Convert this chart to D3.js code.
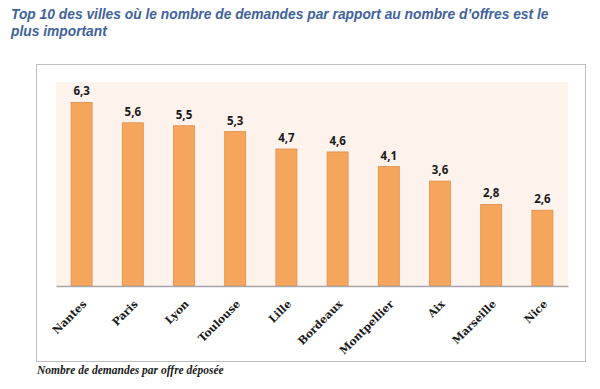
<!DOCTYPE html>
<html><head><meta charset="utf-8">
<script src="https://cdn.jsdelivr.net/npm/d3@7"></script>
<style>body{margin:0;background:#fff;}svg{display:block;}</style>
</head><body>
<script>
const titleLines = ["Top 10 des villes où le nombre de demandes par rapport au nombre d’offres est le", "plus important"];
const cities = ["Nantes","Paris","Lyon","Toulouse","Lille","Bordeaux","Montpellier","Aix","Marseille","Nice"];
const values = [6.3,5.6,5.5,5.3,4.7,4.6,4.1,3.6,2.8,2.6];
const footnote = "Nombre de demandes par offre déposée";

const W=600,H=389;
const svg=d3.select("body").append("svg").attr("width",W).attr("height",H);

svg.selectAll("text.title").data(titleLines).enter().append("text")
  .attr("x",11).attr("y",(d,i)=>19+i*16.5)
  .attr("font-family","Liberation Sans, Arial, sans-serif").attr("font-weight","bold").attr("font-style","italic")
  .attr("font-size",13.8).attr("fill","#41629a").text(d=>d);

svg.append("rect").attr("x",36.5).attr("y",64.5).attr("width",549).attr("height",297)
  .attr("fill","#fff").attr("stroke","#bdbdbd").attr("stroke-width",1);

const m={l:56,r:568,t:82,b:286};
svg.append("rect").attr("x",m.l).attr("y",m.t).attr("width",m.r-m.l).attr("height",m.b-m.t).attr("fill","#fdf2ec");

const x=d3.scaleBand().domain(cities).range([m.l,m.r]).paddingInner(0.59).paddingOuter(0.295);
const y=d3.scaleLinear().domain([0,7]).range([m.b,m.t]);

svg.selectAll("rect.bar").data(values).enter().append("rect")
  .attr("x",(d,i)=>x(cities[i])).attr("y",d=>y(d)).attr("width",x.bandwidth()).attr("height",d=>m.b-y(d))
  .attr("fill","#f6a55c").attr("stroke","#dc8f48").attr("stroke-width",0.8);

svg.selectAll("text.val").data(values).enter().append("text")
  .attr("x",(d,i)=>x(cities[i])+x.bandwidth()/2).attr("y",d=>y(d)-7)
  .attr("text-anchor","middle").attr("font-family","Open Sans, Noto Sans, sans-serif").attr("font-weight","bold")
  .attr("font-size",11.5).attr("fill","#1a1a1a").text(d=>d.toString().replace(".",","));

const ax=svg.append("g").attr("transform",`translate(0,${m.b})`).call(d3.axisBottom(x).tickSize(0).tickPadding(0));
ax.select(".domain").attr("stroke","#a6a6a6").attr("stroke-width",1.5);
ax.selectAll(".tick text")
  .attr("font-family","DejaVu Serif, Liberation Serif, serif").attr("font-weight","bold").attr("font-size",10.8)
  .attr("fill","#1a1a1a").attr("text-anchor","end").attr("dy","0.35em")
  .attr("transform","translate(3,16) rotate(-45)");

svg.append("text").attr("x",37).attr("y",374)
  .attr("font-family","Liberation Serif, Times New Roman, serif").attr("font-weight","bold").attr("font-style","italic")
  .attr("font-size",11.5).attr("fill","#1a1a1a").text(footnote);
</script>
</body></html>
